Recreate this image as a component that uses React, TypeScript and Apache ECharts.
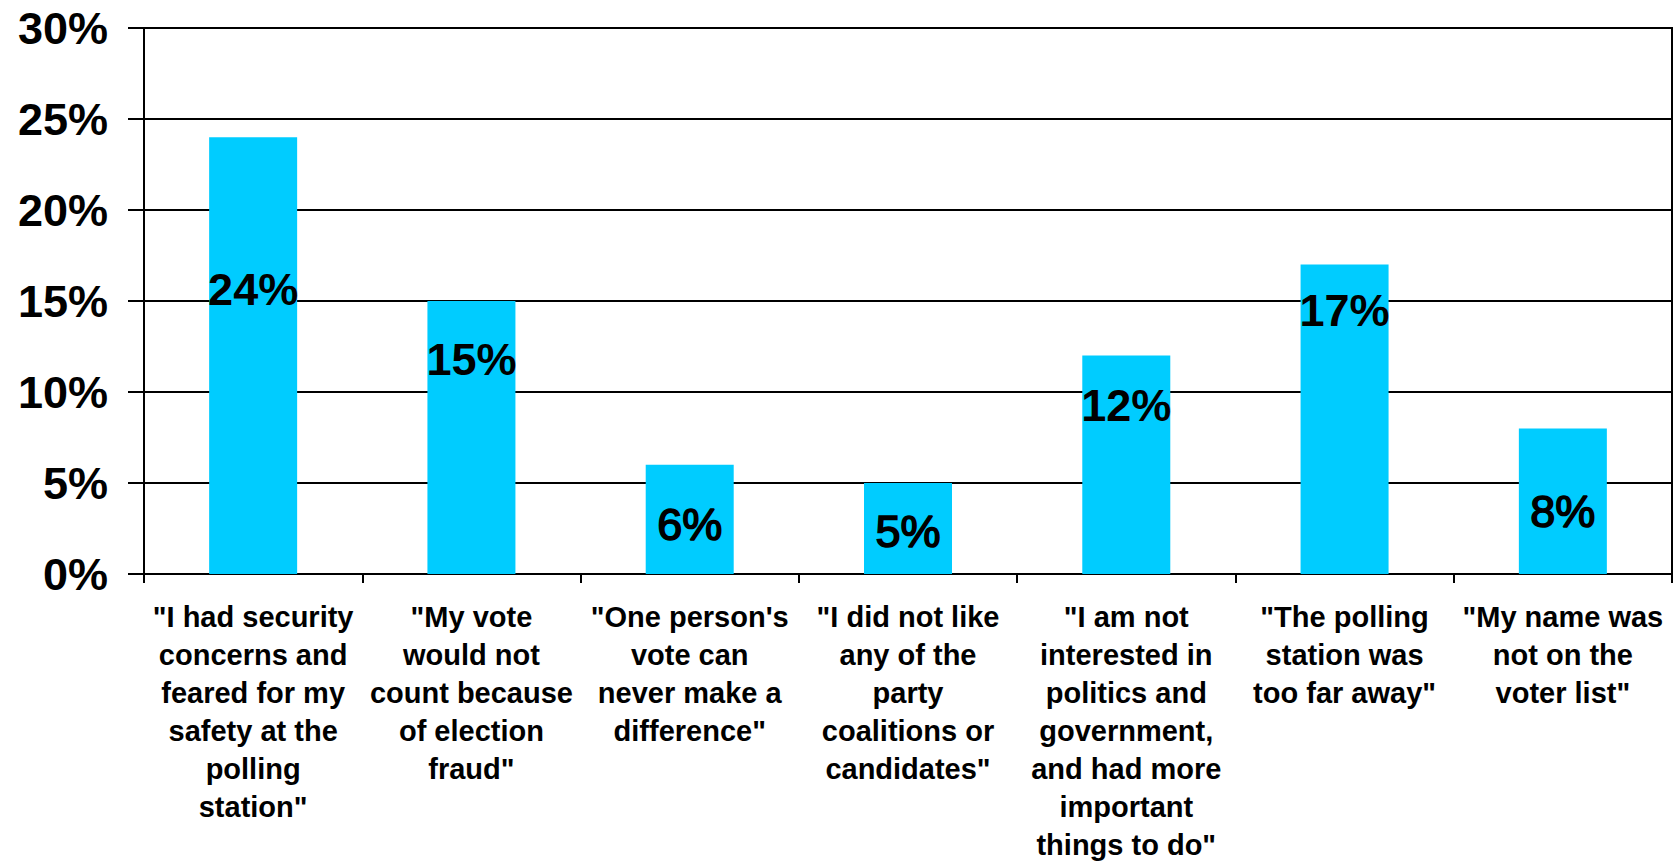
import React, { useEffect, useRef } from "react";
import * as echarts from "echarts";

const categories = [
  '"I had security\nconcerns and\nfeared for my\nsafety at the\npolling\nstation"',
  '"My vote\nwould not\ncount because\nof election\nfraud"',
  '"One person\'s\nvote can\nnever make a\ndifference"',
  '"I did not like\nany of the\nparty\ncoalitions or\ncandidates"',
  '"I am not\ninterested in\npolitics and\ngovernment,\nand had more\nimportant\nthings to do"',
  '"The polling\nstation was\ntoo far away"',
  '"My name was\nnot on the\nvoter list"',
];
const values = [24, 15, 6, 5, 12, 17, 8];
const yTicks = { min: 0, max: 30, interval: 5 };

// label styling (not data): vertical drop of the value label from the bar top, and weight
const labelDrop = [152, 58, 60, 48, 50, 46, 83];
const labelHeavy = [true, true, false, false, true, true, false];

const FONT = '"Liberation Sans", Arial, Helvetica, sans-serif';

export default function App() {
  const ref = useRef<HTMLDivElement>(null);
  useEffect(() => {
    if (!ref.current) return;
    const chart = echarts.init(ref.current, undefined, { renderer: "svg" });
    chart.setOption({
      animation: false,
      backgroundColor: "#fff",
      grid: {
        left: 144,
        right: 3,
        top: 28,
        bottom: 286,
        show: true,
        borderColor: "#000",
        borderWidth: 2,
        backgroundColor: "transparent",
      },
      xAxis: {
        type: "category",
        data: categories,
        boundaryGap: true,
        axisLine: { show: true, lineStyle: { color: "#000", width: 2 } },
        axisTick: { show: true, length: 9, lineStyle: { color: "#000", width: 2 }, interval: 0 },
        axisLabel: {
          interval: 0,
          color: "#000",
          fontFamily: FONT,
          fontWeight: "bold",
          fontSize: 29,
          lineHeight: 38,
          margin: 24,
          align: "center",
        },
        splitLine: { show: false },
      },
      yAxis: {
        type: "value",
        min: yTicks.min,
        max: yTicks.max,
        interval: yTicks.interval,
        axisLine: { show: true, lineStyle: { color: "#000", width: 2 } },
        axisTick: { show: true, length: 16, lineStyle: { color: "#000", width: 2 } },
        axisLabel: {
          formatter: "{value}%",
          color: "#000",
          fontFamily: FONT,
          fontWeight: "bold",
          fontSize: 45,
          margin: 36,
        },
        splitLine: { show: true, lineStyle: { color: "#000", width: 2 } },
      },
      series: [
        {
          type: "bar",
          barWidth: 88,
          itemStyle: { color: "#00CCFF" },
          data: values.map((v, i) => ({
            value: v,
            label: {
              show: true,
              position: ["50%", labelDrop[i]],
              align: "center",
              verticalAlign: "middle",
              formatter: "{c}%",
              color: "#000",
              fontFamily: FONT,
              fontSize: 45,
              fontWeight: labelHeavy[i] ? "bold" : "normal",
              textBorderColor: "#000",
              textBorderWidth: labelHeavy[i] ? 0 : 1.6,
            },
          })),
        },
      ],
    });
    return () => chart.dispose();
  }, []);
  return (
    <div
      ref={ref}
      style={{ position: "fixed", left: 0, top: 0, width: 1675, height: 864, background: "#fff" }}
    />
  );
}
